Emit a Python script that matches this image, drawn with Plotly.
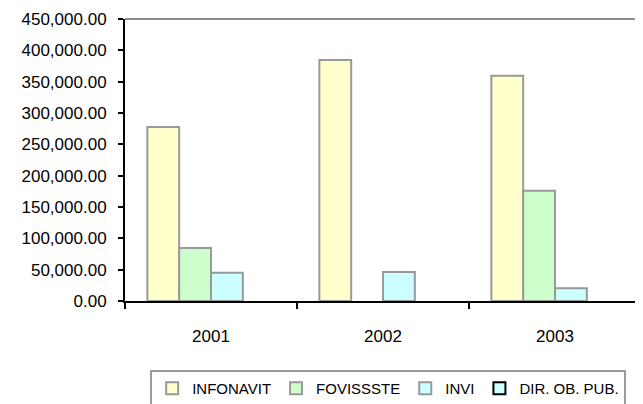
import plotly.graph_objects as go

# Data
years = ["2001", "2002", "2003"]
infonavit = [277700, 384600, 359500]
fovissste = [84600, None, 176000]
invi = [45200, 46300, 20300]
dir_ob_pub = [None, None, None]

series = [
    ("INFONAVIT", infonavit, "#FFFFCC", "#999999"),
    ("FOVISSSTE", fovissste, "#CCFFCC", "#999999"),
    ("INVI", invi, "#CCFFFF", "#999999"),
    ("DIR. OB. PUB.", dir_ob_pub, "#CCFFFF", "#000000"),
]

fig = go.Figure()
for name, vals, fill, edge in series:
    fig.add_trace(go.Bar(
        x=years, y=vals, name=name,
        marker=dict(color=fill, line=dict(color=edge, width=2)),
    ))

# page body adds an 8px margin, so the figure is 8px smaller each way
fig.update_layout(
    width=635, height=396,
    margin=dict(l=117, r=2, t=11, b=103, autoexpand=False),
    paper_bgcolor="white", plot_bgcolor="white",
    font=dict(family="Liberation Sans, Arial, sans-serif", size=15, color="black"),
    barmode="group", bargap=0.26, bargroupgap=0,
    showlegend=True,
    legend=dict(
        orientation="h", x=0.51, xanchor="center", y=-0.245, yanchor="top",
        bordercolor="#999999", borderwidth=2, bgcolor="white",
        font=dict(size=15), traceorder="normal",
    ),
)

fig.update_yaxes(
    range=[0, 450000], dtick=50000, tickformat=",.2f",
    showgrid=False, zeroline=False,
    showline=True, linecolor="black", linewidth=2,
    ticks="outside", ticklen=5, tickwidth=2, tickcolor="black",
    tickfont=dict(size=17), ticklabelstandoff=8,
)
fig.update_xaxes(
    type="category", tickson="boundaries",
    showgrid=False, zeroline=False,
    showline=True, linecolor="black", linewidth=2,
    ticks="outside", ticklen=6, tickwidth=2, tickcolor="black",
    tickfont=dict(size=17), ticklabelstandoff=19,
)

# gray plot-area border along the top
fig.add_shape(type="line", xref="paper", yref="paper", x0=0, x1=1.01, y0=1, y1=1,
              line=dict(color="#8c8c8c", width=2))

fig.write_html("out.html")
